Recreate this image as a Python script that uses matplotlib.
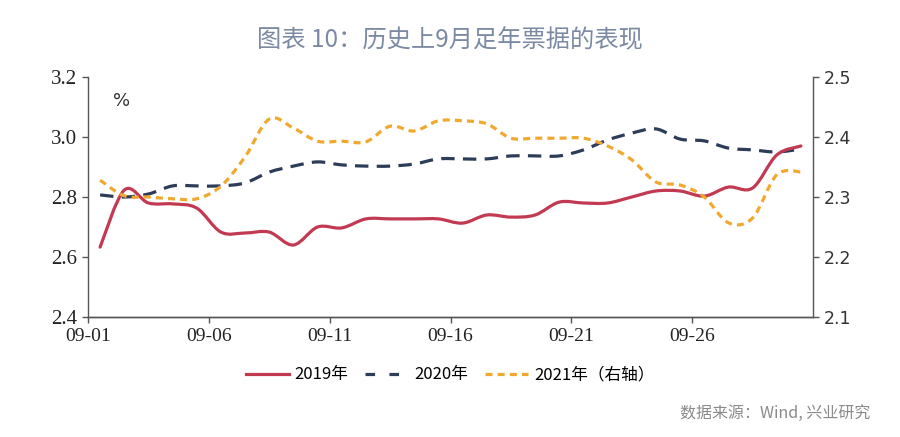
import matplotlib
matplotlib.use('Agg')
import matplotlib.pyplot as plt
from matplotlib.path import Path
from matplotlib.patches import PathPatch
from matplotlib.lines import Line2D
import numpy as np

plt.rcParams['font.family'] = ['Noto Sans CJK SC', 'DejaVu Sans']

# 数据
dates = ['09-%02d' % d for d in range(1, 31)]
tick_labels = ['09-01', '09-06', '09-11', '09-16', '09-21', '09-26']

y2019 = [2.633, 2.823, 2.780, 2.777, 2.763, 2.683, 2.680, 2.683, 2.640, 2.700,
         2.697, 2.727, 2.727, 2.727, 2.727, 2.713, 2.740, 2.733, 2.740, 2.783,
         2.780, 2.780, 2.800, 2.820, 2.820, 2.803, 2.833, 2.830, 2.940, 2.970]
y2020 = [2.807, 2.800, 2.810, 2.837, 2.837, 2.837, 2.847, 2.883, 2.903, 2.917,
         2.907, 2.903, 2.903, 2.910, 2.927, 2.927, 2.927, 2.937, 2.937, 2.937,
         2.957, 2.990, 3.013, 3.027, 2.993, 2.987, 2.963, 2.957, 2.950, 2.960]
y2021 = [2.328, 2.302, 2.300, 2.297, 2.297, 2.318, 2.367, 2.430, 2.415, 2.393,
         2.393, 2.392, 2.418, 2.410, 2.427, 2.427, 2.422, 2.398, 2.398, 2.398,
         2.398, 2.385, 2.362, 2.325, 2.320, 2.300, 2.257, 2.265, 2.337, 2.342]


def smooth_path(xs, ys, t=1/6):
    # Catmull-Rom 平滑，转换为三次贝塞尔曲线
    xs = np.asarray(xs, float)
    ys = np.asarray(ys, float)
    verts = [(xs[0], ys[0])]
    codes = [Path.MOVETO]
    n = len(xs)
    for i in range(n - 1):
        p0 = (xs[max(i - 1, 0)], ys[max(i - 1, 0)])
        p1 = (xs[i], ys[i])
        p2 = (xs[i + 1], ys[i + 1])
        p3 = (xs[min(i + 2, n - 1)], ys[min(i + 2, n - 1)])
        c1 = (p1[0] + (p2[0] - p0[0]) * t, p1[1] + (p2[1] - p0[1]) * t)
        c2 = (p2[0] - (p3[0] - p1[0]) * t, p2[1] - (p3[1] - p1[1]) * t)
        verts += [c1, c2, p2]
        codes += [Path.CURVE4] * 3
    return Path(verts, codes)


c19 = '#c23a52'
c20 = '#2d3c58'
c21 = '#f0a82e'
ls20 = (0, (4.2, 2.6))
ls21 = (0, (2.2, 1.6))

fig = plt.figure(figsize=(9, 4.37), dpi=100)
ax = fig.add_axes([88/900, 1 - 317/437, (813-88)/900, (317-77)/437])
ax2 = ax.twinx()

x = np.arange(len(dates)) + 0.5

ax.add_patch(PathPatch(smooth_path(x, y2019), fill=False, edgecolor=c19,
                       linewidth=2.3, capstyle='round', zorder=3))
ax.add_patch(PathPatch(smooth_path(x, y2020), fill=False, edgecolor=c20,
                       linewidth=2.3, linestyle=ls20, zorder=2))
ax2.add_patch(PathPatch(smooth_path(x, y2021), fill=False, edgecolor=c21,
                        linewidth=2.3, linestyle=ls21, zorder=2))

ax.set_xlim(0, 30)
ax.set_ylim(2.4, 3.2)
ax2.set_ylim(2.1, 2.5)

ax.set_xticks(np.arange(0, 30, 5))
ax.set_xticklabels(tick_labels, fontsize=14, family='Liberation Serif', color='#222222')
ax.set_yticks([2.4, 2.6, 2.8, 3.0, 3.2])
ax.set_yticklabels(['2.4', '2.6', '2.8', '3.0', '3.2'], fontsize=15,
                   family='Liberation Serif', color='#222222')
ax2.set_yticks([2.1, 2.2, 2.3, 2.4, 2.5])
ax2.set_yticklabels(['2.1', '2.2', '2.3', '2.4', '2.5'], fontsize=12.5,
                    family='DejaVu Sans', color='#333333')

for a in (ax, ax2):
    a.spines['top'].set_visible(False)
    for s in a.spines.values():
        s.set_color('#555555')
        s.set_linewidth(1.0)
    a.tick_params(direction='out', length=4, color='#555555', width=1.0, pad=4)
ax.spines['right'].set_visible(False)
ax2.spines['left'].set_visible(False)

ax.text(0.035, 0.9, '%', transform=ax.transAxes, fontsize=13,
        ha='left', va='center', color='#333333', family='DejaVu Sans')

fig.text(0.5, 1 - 40/437, '图表 10：历史上9月足年票据的表现', ha='center', va='center',
         fontsize=17.5, fontweight='medium', color='#7b8aa2')
fig.text(870/900, 1 - 413/437, '数据来源：Wind, 兴业研究', ha='right', va='center',
         fontsize=11.5, color='#8a8a8a')

handles = [Line2D([], [], color=c19, linewidth=2.3),
           Line2D([], [], color=c20, linewidth=2.3, linestyle=(0, (3, 4.5))),
           Line2D([], [], color=c21, linewidth=2.3, linestyle=ls21)]
fig.legend(handles, ['2019年', '2020年', '2021年（右轴）'], loc='center',
           bbox_to_anchor=(0.5, 1 - 375/437), ncol=3, frameon=False, fontsize=12,
           handlelength=2.6, columnspacing=1.0, handletextpad=0.35)

fig.savefig('out.png', dpi=100, facecolor='white')
